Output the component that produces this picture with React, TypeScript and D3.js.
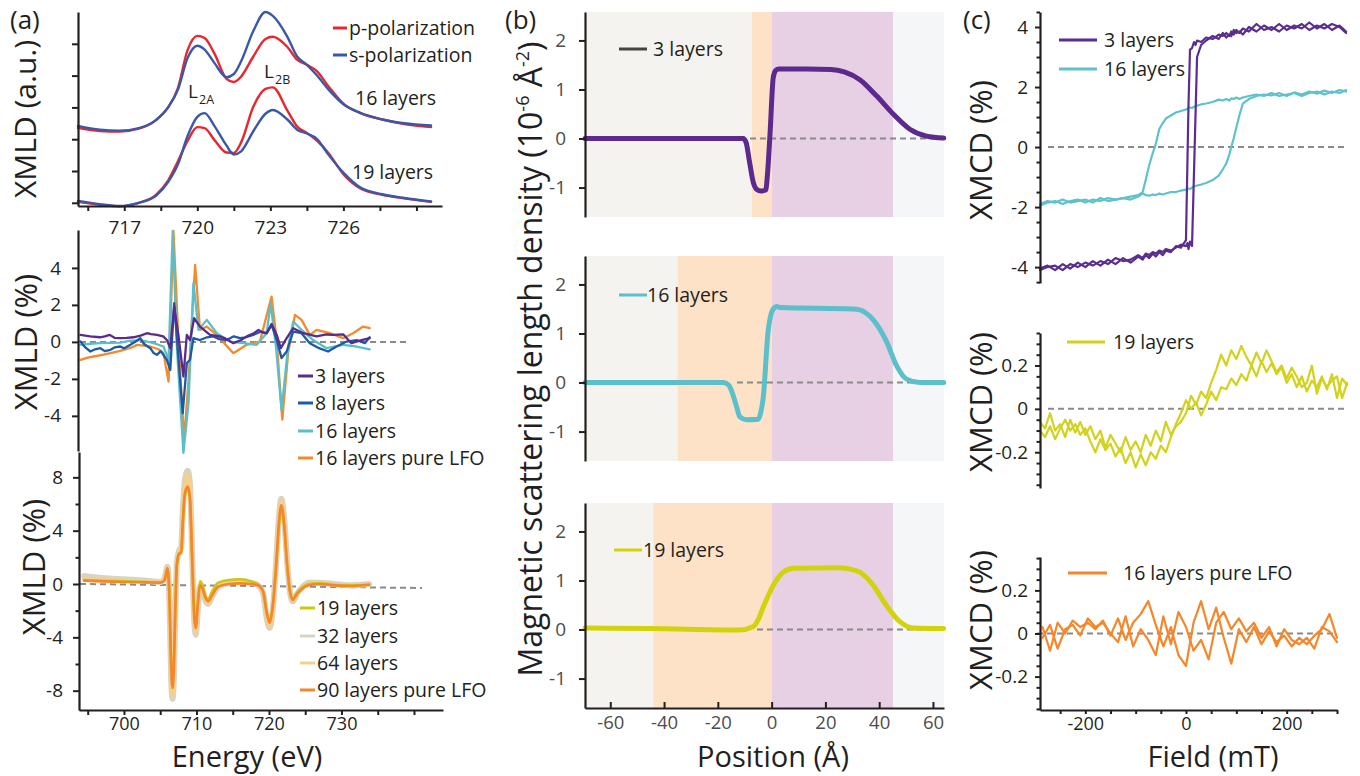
import React, { useEffect, useRef } from "react";
import * as d3 from "d3";

type Pt = [number, number];

const FONT = "'Open Sans', sans-serif";
const INK = "#231f20";

// ---------- (a) top: absorption spectra, p / s polarization
const xasEnergy = [715.1, 716.0, 716.8, 717.6, 718.3, 718.8, 719.2, 719.6, 720.0, 720.3, 720.7, 721.2, 721.5, 721.8, 722.3, 722.8, 723.1, 723.7, 724.1, 724.5, 724.9, 725.4, 726.0, 726.7, 727.6, 728.5, 729.6];
const p16 = [2.36, 2.26, 2.24, 2.33, 2.6, 3.0, 3.6, 4.8, 5.25, 5.18, 4.7, 3.9, 3.8, 3.97, 4.6, 5.15, 5.22, 4.9, 4.5, 4.34, 4.15, 3.65, 3.12, 2.83, 2.62, 2.48, 2.38];
const s16 = [2.42, 2.3, 2.27, 2.35, 2.6, 3.0, 3.55, 4.55, 4.94, 4.82, 4.4, 3.95, 4.05, 4.45, 5.4, 6.0, 5.88, 5.22, 4.6, 4.34, 4.02, 3.55, 3.1, 2.82, 2.62, 2.5, 2.43];
const p19 = [0.03, -0.06, -0.11, 0.0, 0.25, 0.7, 1.3, 1.95, 2.38, 2.35, 1.98, 1.58, 1.57, 1.9, 3.02, 3.58, 3.63, 2.9, 2.4, 2.2, 1.96, 1.55, 0.9, 0.45, 0.25, 0.14, 0.03];
const s19 = [0.06, -0.04, -0.1, 0.0, 0.22, 0.65, 1.2, 2.1, 2.7, 2.82, 2.42, 1.8, 1.52, 1.62, 2.25, 2.8, 2.92, 2.62, 2.3, 2.18, 2.02, 1.5, 0.95, 0.48, 0.27, 0.15, 0.04];

// ---------- (a) middle: XMLD of thin samples
const xmld3L: Pt[] = [[715.2, 0.38], [715.6, 0.3], [716.0, 0.25], [716.2, 0.3], [716.4, 0.38], [716.6, 0.22], [716.84, 0.2], [717.1, 0.22], [717.38, 0.25], [717.7, 0.35], [717.93, 0.47], [718.1, 0.42], [718.34, 0.38], [718.6, 0.3], [718.75, 0.1], [718.89, -0.34], [719.05, 1.9], [719.23, 0.3], [719.43, -1.87], [719.57, 0.38], [719.7, 0.1], [719.87, 1.28], [720.11, 0.83], [720.52, 0.38], [720.93, 0.3], [721.2, 0.15], [721.48, -0.07], [721.8, 0.1], [722.03, 0.3], [722.3, 0.45], [722.51, 0.65], [722.7, 0.5], [722.85, 0.47], [723.05, 0.97], [723.26, 0.38], [723.43, -0.34], [723.67, 0.2], [723.94, 0.74], [724.35, 0.47], [724.9, 0.3], [725.3, 0.4], [725.58, 0.38], [725.99, 0.41], [726.33, -0.07], [726.67, 0.07], [727.08, 0.2]];
const xmld8L: Pt[] = [[715.2, 0.02], [715.4, -0.3], [715.61, -0.52], [715.8, -0.4], [716.02, -0.34], [716.2, -0.5], [716.43, -0.43], [716.6, -0.3], [716.84, -0.25], [717.0, -0.35], [717.25, -0.16], [717.5, 0.05], [717.66, 0.2], [717.8, -0.1], [718.07, -0.34], [718.2, -0.6], [718.34, -0.7], [718.5, -0.5], [718.75, -0.97], [718.89, -1.51], [719.05, 2.09], [719.23, -0.97], [719.4, -3.86], [719.57, -1.15], [719.7, -0.97], [719.84, 0.2], [720.11, 0.1], [720.4, 0.25], [720.66, 0.3], [720.9, 0.15], [721.21, 0.1], [721.5, 0.3], [721.75, 0.2], [722.0, 0.25], [722.3, 0.38], [722.6, 0.55], [722.85, 0.47], [723.05, 0.92], [723.26, 0.1], [723.46, -0.88], [723.67, -0.52], [723.94, 0.56], [724.28, 0.47], [724.62, -0.07], [725.0, -0.34], [725.37, -0.52], [725.72, -0.25], [726.13, 0.02], [726.54, 0.1], [726.88, -0.07], [727.08, 0.25]];
const xmld16L: Pt[] = [[715.2, -0.16], [715.6, -0.1], [716.02, -0.07], [716.5, -0.05], [716.84, -0.04], [717.2, 0.05], [717.66, 0.1], [718.0, 0.0], [718.2, -0.07], [718.61, -0.25], [718.82, -0.97], [718.99, 6.0], [719.16, -0.25], [719.43, -6.0], [719.64, -3.3], [719.84, 3.17], [720.05, 0.65], [720.39, 1.19], [720.8, 0.47], [721.34, 0.02], [721.89, -0.07], [722.44, -0.16], [722.85, 0.47], [723.01, 2.09], [723.23, -0.25], [723.46, -3.68], [723.73, -0.25], [723.94, 1.1], [724.28, 0.65], [724.76, 0.1], [725.31, -0.34], [725.99, -0.16], [726.54, -0.25], [727.08, -0.4]];
const xmld16LFO: Pt[] = [[715.2, -0.97], [715.5, -0.85], [715.74, -0.79], [716.1, -0.7], [716.43, -0.61], [716.8, -0.5], [716.97, -0.43], [717.3, -0.3], [717.52, -0.16], [717.8, -0.2], [718.07, -0.25], [718.4, -0.4], [718.61, -0.61], [718.82, -2.14], [719.02, 6.0], [719.23, -0.07], [719.46, -5.3], [719.64, -2.05], [719.91, 4.16], [720.11, 0.65], [720.39, 0.83], [720.8, 0.38], [721.48, -0.61], [722.03, -0.16], [722.57, 0.02], [723.05, 2.45], [723.26, 0.1], [723.49, -4.2], [723.73, -0.61], [724.01, 1.46], [724.28, 1.19], [724.62, 0.38], [724.9, 0.65], [725.44, 0.47], [725.99, 0.2], [726.4, 0.47], [726.81, 0.83], [727.08, 0.74]];

// ---------- (a) bottom: XMLD of thicker samples
const xmldEnergy = [694.5, 697, 700, 703, 705, 705.6, 706.0, 706.3, 706.5, 706.7, 706.9, 707.1, 707.3, 707.6, 707.9, 708.1, 708.4, 708.8, 709.1, 709.4, 709.7, 709.9, 710.2, 710.5, 710.8, 711.2, 711.6, 712.2, 713.0, 714.5, 716, 717.5, 718.5, 719.2, 719.7, 720.1, 720.5, 721.0, 721.4, 721.7, 722.1, 722.5, 722.9, 723.3, 723.8, 724.5, 725.5, 727, 729, 731, 733.8];
const xmld19 = [0.3, 0.25, 0.2, 0.15, 0.1, 0.3, 1.1, -1.4, -5.8, -7.5, -5.8, -1.4, 1.4, 2.2, 2.3, 4.4, 6.6, 7.1, 6.3, 2.0, -2.3, -3.1, -1.2, 0.2, 0.0, -0.8, -1.1, -0.5, 0.1, 0.3, 0.35, 0.2, -0.05, -0.55, -2.1, -2.8, -1.7, 1.4, 4.6, 5.7, 4.3, 1.4, -0.5, -1.1, -0.7, -0.3, 0.0, 0.05, -0.05, -0.1, -0.05];
const xmld32 = [0.6, 0.45, 0.35, 0.25, 0.15, 0.4, 1.3, -1.8, -6.8, -8.6, -6.8, -1.8, 1.6, 2.5, 2.8, 5.2, 7.8, 8.5, 7.5, 2.4, -2.8, -3.8, -1.8, -0.2, -0.4, -1.2, -1.5, -0.9, -0.2, 0.1, 0.2, 0.1, -0.1, -0.7, -2.6, -3.3, -2.1, 1.7, 5.2, 6.4, 4.9, 1.7, -0.6, -1.3, -0.8, -0.3, 0.1, 0.1, 0.0, -0.1, 0.0];
const xmld64 = [0.4, 0.3, 0.25, 0.18, 0.12, 0.35, 1.25, -1.7, -6.5, -8.3, -6.5, -1.6, 1.5, 2.4, 2.6, 5.0, 7.6, 8.2, 7.2, 2.2, -2.7, -3.6, -1.7, -0.15, -0.35, -1.1, -1.4, -0.85, -0.15, 0.1, 0.15, 0.05, -0.1, -0.65, -2.4, -3.1, -2.0, 1.6, 5.0, 6.2, 4.7, 1.6, -0.6, -1.25, -0.8, -0.35, 0.0, 0.05, -0.05, -0.1, -0.02];
const xmld90 = [0.25, 0.2, 0.15, 0.12, 0.1, 0.3, 1.2, -1.5, -6, -7.8, -6, -1.5, 1.5, 2.3, 2.4, 4.5, 6.8, 7.3, 6.5, 2.0, -2.5, -3.3, -1.5, -0.1, -0.3, -1.0, -1.3, -0.8, -0.2, 0.0, 0.05, 0.0, -0.1, -0.6, -2.2, -2.9, -1.8, 1.5, 4.8, 5.9, 4.5, 1.5, -0.6, -1.2, -0.8, -0.4, -0.1, 0.0, -0.1, -0.15, -0.05];

// ---------- (b) magnetic SLD depth profiles
const layerEdge = [-7.3, -35, -44]; // start of the orange layer per row
const lfoTop = 45.2;
const sld3: Pt[] = [[-69.4, 0], [-40, 0], [-10.6, 0], [-9.5, -0.08], [-8.3, -0.45], [-6.8, -0.9], [-5.5, -1.04], [-4, -1.07], [-2.2, -1.05], [-1.5, -0.7], [-0.6, 0.09], [0.6, 1.24], [1.4, 1.38], [2.5, 1.42], [13, 1.42], [22, 1.41], [27, 1.36], [32.8, 1.2], [39, 0.87], [45.2, 0.5], [51.4, 0.19], [57.6, 0.05], [64, 0.01]];
const sld16: Pt[] = [[-69.4, 0], [-18, 0], [-16, -0.05], [-14.9, -0.17], [-13, -0.5], [-11.8, -0.7], [-9.3, -0.76], [-5, -0.75], [-4, -0.6], [-3.1, -0.3], [-1.3, 1.05], [0.6, 1.5], [2, 1.55], [3.1, 1.53], [30, 1.5], [32.8, 1.48], [35.5, 1.4], [37.8, 1.28], [42.7, 0.84], [46.5, 0.34], [50.2, 0.07], [55.1, 0.0], [64, 0]];
const sld19: Pt[] = [[-69.4, 0.03], [-45, 0.02], [-11.8, -0.01], [-6.8, 0.06], [-5, 0.2], [-3.1, 0.46], [0.6, 0.9], [4.3, 1.17], [8, 1.25], [25.4, 1.26], [30, 1.22], [32.8, 1.17], [37.8, 0.9], [42.7, 0.49], [47.7, 0.16], [52.6, 0.03], [64, 0.02]];

// ---------- (c) XMCD hysteresis loops
const loopField = [-290, -275, -260, -245, -230, -215, -200, -185, -170, -155,
  -140, -125, -110, -95, -86, -80, -73, -66, -60, -53,
  -46, -40, -30, -20, -10, 0, 3, 5, 8, 12,
  16, 19, 22, 30, 40, 53, 65, 73, 80, 86,
  90, 95, 100, 106, 113, 125, 140, 155, 170, 185,
  200, 215, 230, 245, 260, 275, 290, 305, 318];
const loop3Down = [-4.05, -3.95, -4.1, -3.9, -4.05, -3.85, -4.0, -3.8, -3.95, -3.75,
  -3.9, -3.7, -3.85, -3.65, -3.75, -3.6, -3.7, -3.55, -3.65, -3.5,
  -3.6, -3.45, -3.5, -3.3, -3.35, -3.1, -0.4, 1.4, 3.25, 3.3,
  3.5, 3.4, 3.55, 3.5, 3.65, 3.6, 3.75, 3.7, 3.8, 3.7,
  3.85, 3.75, 3.9, 3.8, 3.95, 3.85, 4.1, 3.9, 4.0, 3.85,
  4.05, 3.95, 4.1, 3.9, 4.05, 3.95, 4.1, 4.0, 3.8];
const loop3Up = [-4.1, -4.0, -3.95, -4.1, -3.9, -4.0, -3.85, -3.95, -3.8, -3.9,
  -3.7, -3.8, -3.75, -3.6, -3.7, -3.55, -3.6, -3.5, -3.55, -3.45,
  -3.5, -3.4, -3.45, -3.35, -3.25, -3.3, -3.2, -3.4, -3.15, -3.3,
  -0.8, 1.1, 3.0, 3.4, 3.55, 3.7, 3.6, 3.8, 3.65, 3.75,
  3.7, 3.9, 3.8, 3.85, 3.75, 4.0, 3.85, 4.05, 3.9, 4.1,
  3.9, 4.05, 3.95, 4.15, 3.95, 4.1, 3.9, 4.05, 3.85];
const loop16Down = [-1.95, -1.85, -1.8, -1.9, -1.8, -1.75, -1.85, -1.75, -1.8, -1.7,
  -1.75, -1.7, -1.65, -1.6, -1.5, -1.1, -0.6, -0.2, 0.1, 0.6,
  0.8, 0.95, 1.05, 1.15, 1.2, 1.25, 1.28, 1.3, 1.32, 1.3,
  1.35, 1.35, 1.38, 1.42, 1.45, 1.5, 1.58, 1.55, 1.6, 1.55,
  1.62, 1.6, 1.65, 1.6, 1.65, 1.7, 1.75, 1.7, 1.8, 1.7,
  1.75, 1.8, 1.7, 1.8, 1.85, 1.75, 1.85, 1.8, 1.9];
const loop16Up = [-1.9, -1.8, -1.85, -1.75, -1.85, -1.8, -1.75, -1.85, -1.7, -1.8,
  -1.75, -1.7, -1.75, -1.65, -1.55, -1.6, -1.62, -1.58, -1.6, -1.55,
  -1.58, -1.55, -1.5, -1.5, -1.45, -1.42, -1.4, -1.38, -1.4, -1.35,
  -1.3, -1.3, -1.28, -1.25, -1.2, -1.1, -0.95, -0.75, -0.55, -0.25,
  0.0, 0.3, 0.65, 1.05, 1.45, 1.6, 1.7, 1.75, 1.72, 1.8,
  1.7, 1.82, 1.75, 1.85, 1.78, 1.88, 1.8, 1.9, 1.85];

const loop19A: Pt[] = [[-290, -0.06], [-280, -0.09], [-270, -0.02], [-260, -0.1], [-250, -0.07], [-240, -0.13], [-230, -0.05], [-220, -0.11], [-210, -0.06], [-200, -0.12],
  [-190, -0.08], [-180, -0.14], [-170, -0.1], [-160, -0.18], [-150, -0.12], [-140, -0.16], [-130, -0.2], [-120, -0.13], [-110, -0.19], [-100, -0.15],
  [-90, -0.2], [-80, -0.12], [-70, -0.17], [-60, -0.1], [-50, -0.15], [-40, -0.06], [-30, -0.12], [-20, -0.08], [-10, -0.06], [0, -0.02],
  [10, 0.06], [20, 0.02], [30, 0.08], [40, 0.05], [50, 0.12], [60, 0.18], [70, 0.25], [80, 0.2], [90, 0.27], [100, 0.23],
  [110, 0.29], [120, 0.24], [130, 0.2], [140, 0.26], [150, 0.21], [160, 0.27], [170, 0.22], [180, 0.17], [190, 0.2], [200, 0.14],
  [210, 0.19], [220, 0.15], [230, 0.1], [240, 0.12], [250, 0.2], [260, 0.07], [270, 0.14], [280, 0.1], [290, 0.13], [300, 0.15], [310, 0.05], [320, 0.12]];
const loop19B: Pt[] = [[-290, -0.1], [-280, -0.13], [-270, -0.08], [-260, -0.14], [-250, -0.09], [-240, -0.05], [-230, -0.1], [-220, -0.07], [-210, -0.12], [-200, -0.09],
  [-190, -0.15], [-180, -0.2], [-170, -0.14], [-160, -0.19], [-150, -0.16], [-140, -0.22], [-130, -0.18], [-120, -0.25], [-110, -0.2], [-100, -0.27],
  [-90, -0.21], [-80, -0.26], [-70, -0.2], [-60, -0.23], [-50, -0.17], [-40, -0.2], [-30, -0.13], [-20, -0.07], [-10, -0.02], [0, 0.04],
  [10, 0.0], [20, 0.03], [30, -0.03], [40, 0.02], [50, 0.08], [60, 0.04], [70, 0.1], [80, 0.09], [90, 0.14], [100, 0.11],
  [110, 0.16], [120, 0.13], [130, 0.2], [140, 0.15], [150, 0.22], [160, 0.17], [170, 0.21], [180, 0.16], [190, 0.19], [200, 0.12],
  [210, 0.16], [220, 0.1], [230, 0.15], [240, 0.08], [250, 0.13], [260, 0.1], [270, 0.15], [280, 0.09], [290, 0.16], [300, 0.05], [310, 0.14], [320, 0.11]];

const loopLfoA: Pt[] = [[-285, 0.03], [-270, -0.08], [-255, 0.05], [-240, 0.0], [-225, 0.06], [-210, 0.03], [-195, 0.05], [-180, 0.02], [-165, 0.06], [-150, -0.01],
  [-135, 0.07], [-120, -0.03], [-105, 0.05], [-90, 0.09], [-75, 0.15], [-60, 0.04], [-45, -0.06], [-30, 0.03], [-15, -0.1], [0, -0.15],
  [15, 0.05], [30, 0.15], [45, 0.02], [60, 0.12], [75, -0.02], [90, -0.14], [105, 0.02], [120, -0.04], [135, 0.03], [150, -0.05],
  [165, 0.01], [180, -0.04], [195, -0.01], [210, -0.06], [225, -0.02], [240, -0.05], [255, -0.01], [270, 0.02], [285, 0.09], [300, -0.02]];
const loopLfoB: Pt[] = [[-285, -0.02], [-270, 0.04], [-255, -0.07], [-240, 0.02], [-225, 0.04], [-210, -0.01], [-195, 0.07], [-180, 0.03], [-165, 0.05], [-150, 0.0],
  [-135, -0.04], [-120, 0.08], [-105, -0.06], [-90, 0.02], [-75, -0.03], [-60, -0.1], [-45, 0.08], [-30, -0.05], [-15, 0.1], [0, 0.03],
  [15, -0.08], [30, -0.03], [45, -0.12], [60, 0.05], [75, 0.1], [90, 0.02], [105, 0.07], [120, 0.01], [135, 0.05], [150, -0.02],
  [165, 0.03], [180, -0.06], [195, 0.02], [210, -0.03], [225, -0.05], [240, -0.02], [255, -0.07], [270, 0.03], [285, 0.01], [300, -0.04]];

const zip = (xs: number[], ys: number[]): Pt[] => xs.map((x, i) => [x, ys[i]]);

function App() {
  const svgRef = useRef<SVGSVGElement>(null);

  useEffect(() => {
    const svg = d3.select(svgRef.current);
    svg.selectAll("*").remove();

    const text = (x: number, y: number, s: string, size = 19.5, anchor = "start", fill = INK) =>
      svg.append("text").attr("x", x).attr("y", y).attr("dy", "0.35em")
        .attr("font-family", FONT).attr("font-size", size).attr("text-anchor", anchor)
        .attr("fill", fill).text(s);

    const vtitle = (x: number, y: number, s: string, size = 31) =>
      svg.append("text").attr("transform", `translate(${x},${y}) rotate(-90)`)
        .attr("text-anchor", "middle").attr("font-family", FONT).attr("font-size", size)
        .attr("fill", INK).text(s);

    const htitle = (x: number, y: number, s: string, size = 29) =>
      svg.append("text").attr("x", x).attr("y", y).attr("text-anchor", "middle")
        .attr("font-family", FONT).attr("font-size", size).attr("fill", INK).text(s);

    const plot = (data: Pt[], x: any, y: any, color: string, width: number, curve: any = d3.curveLinear) =>
      svg.append("path").datum(data).attr("fill", "none").attr("stroke", color)
        .attr("stroke-width", width).attr("stroke-linejoin", "round").attr("stroke-linecap", "round")
        .attr("d", d3.line<Pt>().x((d) => x(d[0])).y((d) => y(d[1])).curve(curve));

    const dashed = (x0: number, x1: number, y0: number, y1 = y0) =>
      svg.append("line").attr("x1", x0).attr("x2", x1).attr("y1", y0).attr("y2", y1)
        .attr("stroke", "#8a8a8a").attr("stroke-width", 2).attr("stroke-dasharray", "6,4");

    const legend = (x0: number, x1: number, y: number, color: string, label: string, tx: number, width = 3) => {
      svg.append("line").attr("x1", x0).attr("x2", x1).attr("y1", y).attr("y2", y)
        .attr("stroke", color).attr("stroke-width", width);
      text(tx, y, label);
    };

    const fmt = (d: any) => `${d}`;

    const styleAxis = (g: any, color = INK, size = 19) => {
      g.attr("font-family", FONT).attr("font-size", size);
      g.select(".domain").attr("stroke", INK).attr("stroke-width", 2.2);
      g.selectAll(".tick line").attr("stroke", INK).attr("stroke-width", 2);
      g.selectAll(".tick text").attr("fill", color);
      // drop the empty labels of unlabelled ticks
      g.selectAll(".tick text").filter(function (this: any) { return !this.textContent; }).remove();
    };

    const leftAxis = (y: any, x: number, major: number[], minor: number[], labels: boolean, pad: number, color = INK, size = 6) => {
      const g = svg.append("g").attr("transform", `translate(${x},0)`);
      g.call(d3.axisLeft(y).tickValues(major).tickSize(size).tickSizeOuter(0).tickPadding(pad)
        .tickFormat((d: any) => (labels ? fmt(d) : "")));
      styleAxis(g, color);
      if (minor.length) {
        const m = svg.append("g").attr("transform", `translate(${x},0)`);
        m.call(d3.axisLeft(y).tickValues(minor).tickSize(3.5).tickSizeOuter(0).tickFormat(() => ""));
        m.select(".domain").remove();
        m.selectAll(".tick text").remove();
        m.selectAll(".tick line").attr("stroke", INK).attr("stroke-width", 2);
      }
    };

    const bottomAxis = (x: any, y: number, ticks: number[], shown: number[], inner: number, pad: number, color = INK, size = 19) => {
      const g = svg.append("g").attr("transform", `translate(0,${y})`);
      g.call(d3.axisBottom(x).tickValues(ticks).tickSizeInner(inner).tickSizeOuter(0).tickPadding(pad)
        .tickFormat((d: any) => (shown.includes(d) ? fmt(d) : "")));
      styleAxis(g, color, size);
    };

    // ================= (a) top
    const xTop = d3.scaleLinear().domain([715.1, 730.05]).range([78, 442]);
    const yTop = d3.scaleLinear().domain([-0.1, 6.0]).range([206, 12]);
    const red = "#e8262e";
    const blue = "#3a58a8";
    plot(zip(xasEnergy, p16), xTop, yTop, red, 2.4, d3.curveMonotoneX);
    plot(zip(xasEnergy, s16), xTop, yTop, blue, 2.4, d3.curveMonotoneX);
    plot(zip(xasEnergy, p19), xTop, yTop, red, 2.4, d3.curveMonotoneX);
    plot(zip(xasEnergy, s19), xTop, yTop, blue, 2.4, d3.curveMonotoneX);
    leftAxis(yTop, 78, [0, 1, 2, 3, 4, 5], [], false, 4);
    bottomAxis(xTop, 206, [715.5, 717, 718.5, 720, 721.5, 723, 724.5, 726, 727.5, 729], [717, 720, 723, 726], 5, 10);
    legend(333, 347, 28, red, "p-polarization", 349);
    legend(333, 347, 55, blue, "s-polarization", 349);
    text(355, 98, "16 layers");
    text(352, 172, "19 layers");
    text(188, 91, "L", 19);
    text(199, 100, "2A", 12.5);
    text(264, 71, "L", 19);
    text(275, 80, "2B", 12.5);
    vtitle(36, 119, "XMLD (a.u.)", 30);

    // ================= (a) middle
    const yMid = d3.scaleLinear().domain([-5.9, 6.05]).range([451, 230]);
    dashed(80, 408, yMid(0));
    plot(xmld16LFO, xTop, yMid, "#f58a2c", 2.3);
    plot(xmld16L, xTop, yMid, "#5bbfca", 2.3);
    plot(xmld8L, xTop, yMid, "#1c5aa6", 2.3);
    plot(xmld3L, xTop, yMid, "#5a2a8c", 2.3);
    leftAxis(yMid, 78, [-4, -2, 0, 2, 4], [], true, 11);
    legend(298, 313, 376, "#5a2a8c", "3 layers", 315);
    legend(298, 313, 403, "#1c5aa6", "8 layers", 315);
    legend(298, 313, 431, "#5bbfca", "16 layers", 315);
    legend(298, 313, 458, "#f58a2c", "16 layers pure LFO", 315);
    vtitle(37, 342, "XMLD (%)");

    // ================= (a) bottom
    const xBot = d3.scaleLinear().domain([693.8, 744]).range([79, 443]);
    const yBot = d3.scaleLinear().domain([-9.45, 9.9]).range([710, 452]);
    dashed(80, 422, yBot(0), yBot(-0.3));
    plot(zip(xmldEnergy, xmld32), xBot, yBot, "#d9d3c3", 6, d3.curveMonotoneX);
    plot(zip(xmldEnergy, xmld64), xBot, yBot, "#f3d08c", 4, d3.curveMonotoneX);
    plot(zip(xmldEnergy, xmld19), xBot, yBot, "#c9c90e", 2.5, d3.curveMonotoneX);
    plot(zip(xmldEnergy, xmld90), xBot, yBot, "#f5862a", 2.6, d3.curveMonotoneX);
    leftAxis(yBot, 79, [-8, -4, 0, 4, 8], [-6, -2, 2, 6], true, 10);
    bottomAxis(xBot, 710, [695, 700, 705, 710, 715, 720, 725, 730, 735, 740], [700, 710, 720, 730], 5, 2, INK, 18);
    legend(300, 315, 608, "#c9c90e", "19 layers", 317);
    legend(300, 315, 636, "#d9d3c3", "32 layers", 317);
    legend(300, 315, 663, "#f3d08c", "64 layers", 317);
    legend(300, 315, 690, "#f5862a", "90 layers pure LFO", 317);
    vtitle(45, 567, "XMLD (%)");
    htitle(247, 767, "Energy (eV)");
    text(10, 20, "(a)", 26);

    // ================= (b)
    const xB = d3.scaleLinear().domain([-69.4, 64.1]).range([585, 944]);
    const rowTop = [12, 256, 503];
    const rowH = 205;
    const profiles = [sld3, sld16, sld19];
    const profColor = ["#5b2a8c", "#5cbfcb", "#d3d20f"];
    const dashStart = [750, 737, 757];
    const legendLine = [["#444444", 619, 647, 49, 653, "3 layers"], [profColor[1], 619, 647, 295, 647, "16 layers"], [profColor[2], 614, 642, 550, 643, "19 layers"]];
    rowTop.forEach((top, i) => {
      const y = d3.scaleLinear().domain([-1.6, 2.58]).range([top + rowH, top]);
      const bands: [number, number, string][] = [
        [-69.4, layerEdge[i], "#f4f3ef"],
        [layerEdge[i], 0, "#fde2c8"],
        [0, lfoTop, "#e7d0e4"],
        [lfoTop, 64.1, "#f5f6f8"],
      ];
      bands.forEach(([a, b, c]) => {
        svg.append("rect").attr("x", xB(a)).attr("y", top).attr("width", xB(b) - xB(a)).attr("height", rowH).attr("fill", c);
      });
      dashed(dashStart[i], 944, y(0));
      plot(profiles[i], xB, y, profColor[i], 5, d3.curveMonotoneX);
      leftAxis(y, 585, [-1, 0, 1, 2], [], true, 13, "#4d4d4d");
      const [lc, a0, a1, ly, tx, lab] = legendLine[i] as any;
      legend(a0, a1, ly, lc, lab, tx, 3);
      if (i === 2) {
        bottomAxis(xB, top + rowH, [-60, -40, -20, 0, 20, 40, 60], [-60, -40, -20, 0, 20, 40, 60], -6, 8, "#4d4d4d", 18.5);
      }
    });
    const sld = svg.append("text").attr("transform", "translate(542,359) rotate(-90)")
      .attr("text-anchor", "middle").attr("font-family", FONT).attr("font-size", 32).attr("fill", INK);
    sld.append("tspan").text("Magnetic scattering length density (10");
    sld.append("tspan").attr("font-size", 18).attr("dy", -13).text("-6");
    sld.append("tspan").attr("dy", 13).text(" Å");
    sld.append("tspan").attr("font-size", 18).attr("dy", -13).text("-2");
    sld.append("tspan").attr("dy", 13).text(")");
    htitle(773, 767, "Position (Å)");
    text(505, 20, "(b)", 26);

    // ================= (c)
    const xC = d3.scaleLinear().domain([-290, 300]).range([1040, 1337]);
    const minorSmall = [-0.35, -0.3, -0.25, -0.15, -0.1, -0.05, 0.05, 0.1, 0.15, 0.25, 0.3, 0.35];

    const yC1 = d3.scaleLinear().domain([-4.53, 4.5]).range([283, 12]);
    dashed(1048, 1347, yC1(0));
    plot(zip(loopField, loop16Down), xC, yC1, "#5ec2cc", 2.2);
    plot(zip(loopField, loop16Up), xC, yC1, "#5ec2cc", 2.2);
    plot(zip(loopField, loop3Down), xC, yC1, "#5a2d91", 2.2);
    plot(zip(loopField, loop3Up), xC, yC1, "#5a2d91", 2.2);
    leftAxis(yC1, 1040, [-4, -2, 0, 2, 4], [-4.5, -3.5, -3, -2.5, -1.5, -1, -0.5, 0.5, 1, 1.5, 2.5, 3, 3.5, 4.5], true, 7, INK, 5);
    legend(1059, 1097, 40, "#5a2d91", "3 layers", 1104);
    legend(1059, 1097, 69, "#5ec2cc", "16 layers", 1104);
    vtitle(992, 150, "XMCD (%)");

    const yC2 = d3.scaleLinear().domain([-0.365, 0.35]).range([488, 333]);
    dashed(1048, 1347, yC2(0));
    plot(loop19A, xC, yC2, "#d2d21e", 2.2);
    plot(loop19B, xC, yC2, "#d2d21e", 2.2);
    leftAxis(yC2, 1040, [-0.2, 0, 0.2], minorSmall, true, 7, INK, 5);
    legend(1067, 1105, 342, "#d2d21e", "19 layers", 1113);
    vtitle(992, 402, "XMCD (%)");

    const yC3 = d3.scaleLinear().domain([-0.355, 0.355]).range([710, 557]);
    dashed(1037, 1333, yC3(0));
    plot(loopLfoA, xC, yC3, "#f5862a", 2.2);
    plot(loopLfoB, xC, yC3, "#f5862a", 2.2);
    leftAxis(yC3, 1040, [-0.2, 0, 0.2], minorSmall, true, 7, INK, 5);
    bottomAxis(xC, 710, [-250, -200, -150, -100, -50, 0, 50, 100, 150, 200, 250, 300], [-200, 0, 200], 4, 3, INK, 18);
    legend(1068, 1107, 573, "#f5862a", "16 layers pure LFO", 1123);
    vtitle(992, 620, "XMCD (%)");
    htitle(1213, 767, "Field (mT)");
    text(963, 20, "(c)", 26);
  }, []);

  return (
    <svg
      ref={svgRef}
      width={1360}
      height={776}
      style={{ position: "absolute", left: 0, top: 0, background: "#ffffff" }}
    />
  );
}

export default App;
